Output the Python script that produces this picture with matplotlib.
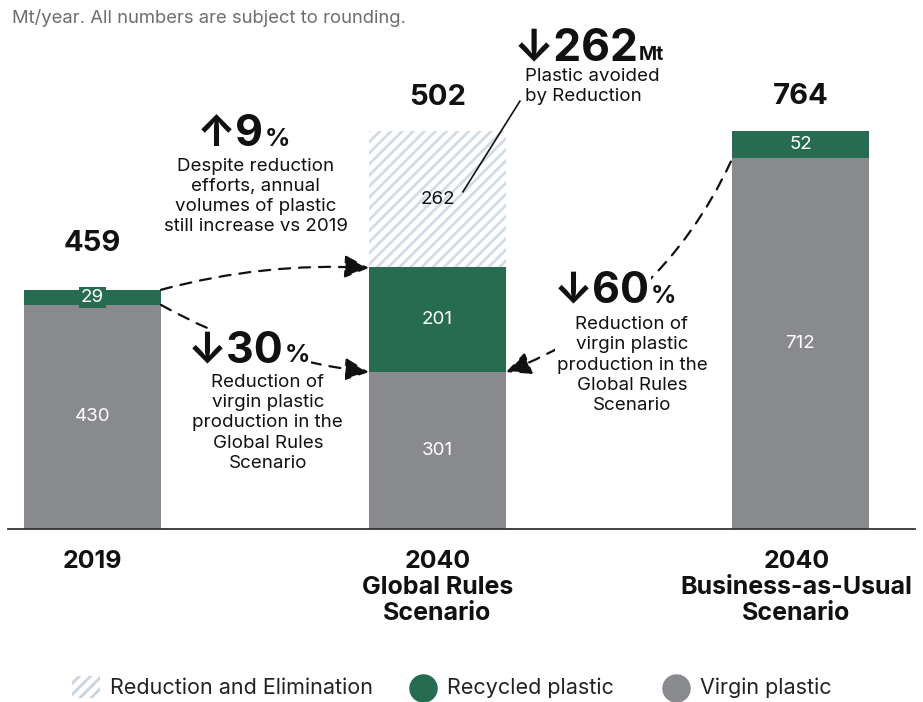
import matplotlib.pyplot as plt
from matplotlib.patches import Rectangle
from matplotlib.lines import Line2D

plt.rcParams['font.family'] = ['Inter', 'DejaVu Sans']
plt.rcParams['hatch.linewidth'] = 2.0

# data (Mt/year)
categories = ['2019', '2040\nGlobal Rules\nScenario', '2040\nBusiness-as-Usual\nScenario']
virgin = [430, 301, 712]
recycled = [29, 201, 52]
reduction = [0, 262, 0]
totals = [459, 502, 764]

GREEN = '#276b50'
GREY = '#898a8e'
HATCH = '#d3dbe6'
INK = '#111111'

x_pos = [0, 2.518, 5.168]

fig = plt.figure(figsize=(9.23, 7.02), dpi=100)
ax = fig.add_axes([8 / 923, 173 / 702, 907 / 923, 529 / 702])

bottoms2 = [v + r for v, r in zip(virgin, recycled)]
ax.bar(x_pos, virgin, width=1, color=GREY, linewidth=0, zorder=2)
ax.bar(x_pos, recycled, width=1, bottom=virgin, color=GREEN, linewidth=0, zorder=2)
ax.bar(x_pos, reduction, width=1, bottom=bottoms2, facecolor='white',
       edgecolor=HATCH, hatch='///', linewidth=0, zorder=2)

ax.set_xlim(-0.617, 6.004)
ax.set_ylim(0, 1015)
for s in ['top', 'right', 'left']:
    ax.spines[s].set_visible(False)
ax.spines['bottom'].set_color('#333333')
ax.spines['bottom'].set_linewidth(1.3)
ax.set_xticks([])
ax.set_yticks([])

# segment values
for i, x in enumerate(x_pos):
    ax.text(x, virgin[i] / 2, str(virgin[i]), ha='center', va='center',
            color='white', fontsize=13.5, zorder=4)
    if recycled[i] < 40:
        ax.text(x, virgin[i] + recycled[i] / 2, str(recycled[i]), ha='center',
                va='center', color='white', fontsize=13.5, zorder=4,
                bbox=dict(facecolor=GREEN, edgecolor='none', pad=1.5))
    else:
        ax.text(x, virgin[i] + recycled[i] / 2, str(recycled[i]), ha='center',
                va='center', color='white', fontsize=13.5, zorder=4)
    if reduction[i] > 0:
        ax.text(x, bottoms2[i] + reduction[i] / 2, str(reduction[i]), ha='center',
                va='center', color=INK, fontsize=13.5, zorder=4)

# totals
total_y = [547, 827, 829]
for i, x in enumerate(x_pos):
    ax.text(x, total_y[i], str(totals[i]), ha='center', va='center',
            fontsize=21, fontweight='bold', color=INK)

# category labels
for i, x in enumerate(x_pos):
    ax.text(x - (0.03 if i == 2 else 0), -40, categories[i], ha='center', va='top',
            fontsize=18, fontweight='bold', color=INK, linespacing=1.17, clip_on=False)


def big_label(x, y, main, small, main_size=31, small_size=18):
    bb = dict(facecolor='white', edgecolor='none', pad=0.5)
    ax.text(x, y, main, ha='right', va='baseline', fontsize=main_size,
            fontweight='bold', color=INK, zorder=5, bbox=bb)
    ax.text(x + 0.006, y, small, ha='left', va='baseline', fontsize=small_size,
            fontweight='bold', color=INK, zorder=5, bbox=bb)


def note(x, y, s, ha='center'):
    ax.text(x, y, s, ha=ha, va='top', fontsize=13.5, color=INK, linespacing=1.24,
            zorder=5, bbox=dict(facecolor='white', edgecolor='none', pad=1))


big_label(1.25, 735, '\u21919', '%')
note(1.19, 712, 'Despite reduction\nefforts, annual\nvolumes of plastic\nstill increase vs 2019')

big_label(1.395, 320, '\u219330', '%')
note(1.28, 297, 'Reduction of\nvirgin plastic\nproduction in the\nGlobal Rules\nScenario')

big_label(4.067, 434, '\u219360', '%')
note(3.938, 408, 'Reduction of\nvirgin plastic\nproduction in the\nGlobal Rules\nScenario')

big_label(3.985, 900, '\u2193262', 'Mt', main_size=32, small_size=14)
note(3.157, 884, 'Plastic avoided\nby Reduction', ha='left')

# leader line from the 262 segment
ax.plot([2.704, 3.12], [647, 821], color=INK, lw=1.2, zorder=3)

# dashed arrows
aprops = dict(arrowstyle='-|>,head_length=0.75,head_width=0.35', mutation_scale=20,
              color=INK, lw=1.6, linestyle=(0, (5, 4)), shrinkA=0, shrinkB=0)
ax.annotate('', xy=(2.018, 501), xytext=(0.5, 459),
            arrowprops=dict(connectionstyle='arc3,rad=-0.08', **aprops), zorder=3)
ax.annotate('', xy=(2.018, 301), xytext=(0.5, 430),
            arrowprops=dict(connectionstyle='arc3,rad=0.1', **aprops), zorder=3)
ax.annotate('', xy=(3.018, 301), xytext=(4.66, 705),
            arrowprops=dict(connectionstyle='arc3,rad=-0.2', **aprops), zorder=3)

# subtitle
fig.text(12 / 923, 1 - 18 / 702, 'Mt/year. All numbers are subject to rounding.',
         ha='left', va='center', fontsize=13.3, color='#6d6e71')

# legend
ly = 14 / 702
fig.add_artist(Rectangle((72 / 923, 4 / 702), 28 / 923, 22 / 702, facecolor='white',
                         edgecolor='#c9d3e0', hatch='///', linewidth=0,
                         transform=fig.transFigure))
fig.text(110 / 923, ly, 'Reduction and Elimination', ha='left', va='center',
         fontsize=15.5, color='#222222')
fig.add_artist(Line2D([423 / 923], [ly], marker='o', markersize=19.5, color=GREEN,
                      linestyle='none', transform=fig.transFigure))
fig.text(447 / 923, ly, 'Recycled plastic', ha='left', va='center',
         fontsize=15.5, color='#222222')
fig.add_artist(Line2D([676 / 923], [ly], marker='o', markersize=19.5, color=GREY,
                      linestyle='none', transform=fig.transFigure))
fig.text(700 / 923, ly, 'Virgin plastic', ha='left', va='center',
         fontsize=15.5, color='#222222')

fig.savefig('out.png', dpi=100)
